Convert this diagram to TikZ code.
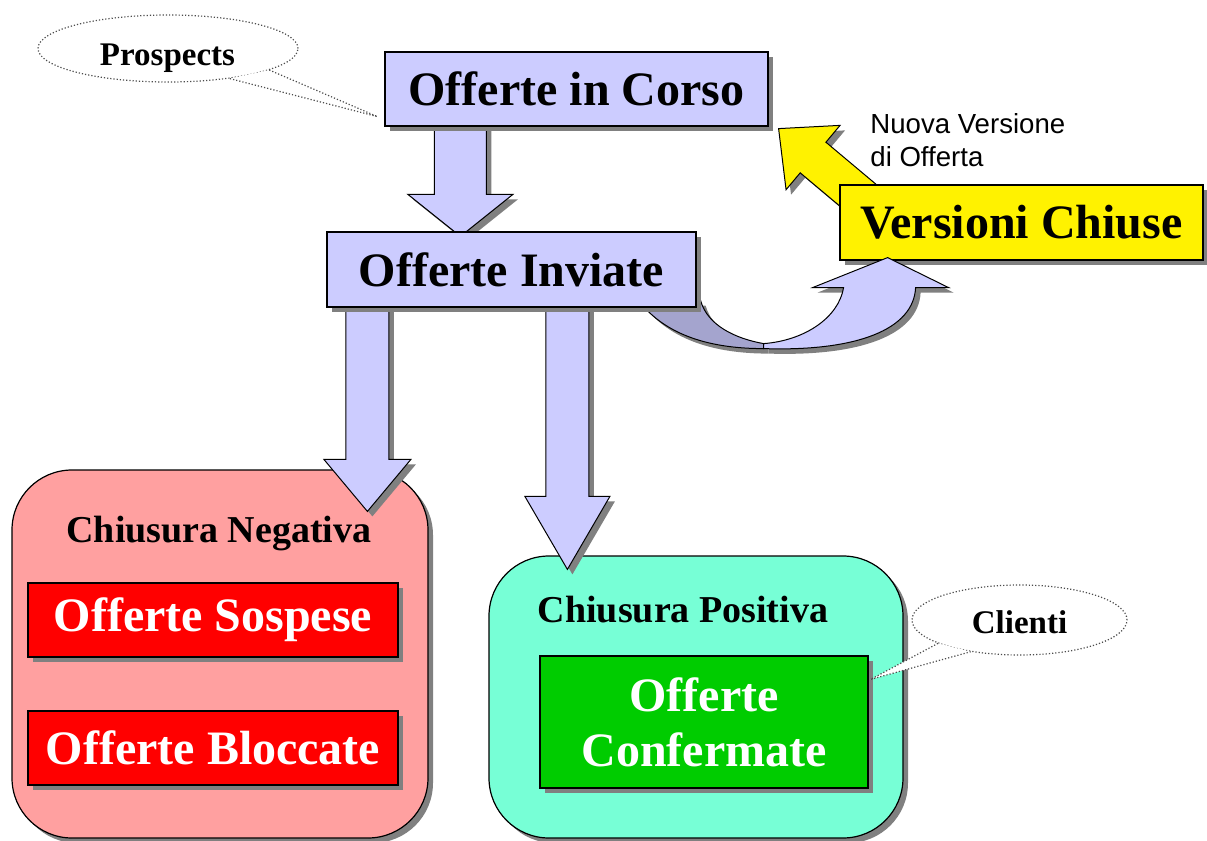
\documentclass[tikz,border=0pt]{standalone}
\usepackage{fontspec}
\setmainfont{Liberation Serif}
\newfontfamily\labelsans{Liberation Sans}
\usetikzlibrary{calc,shapes.geometric,shadows}

\pgfdeclarelayer{back}
\pgfdeclarelayer{arrows}
\pgfdeclarelayer{front}
\pgfsetlayers{back,arrows,main,front}

\definecolor{lavender}{RGB}{204,204,255}
\definecolor{lavenderdark}{RGB}{164,164,206}
\definecolor{negpink}{RGB}{255,160,160}
\definecolor{posaqua}{RGB}{119,255,214}
\definecolor{okgreen}{RGB}{0,204,0}
\definecolor{shade}{RGB}{128,128,128}

\tikzset{
  shadowed/.style={drop shadow={shadow xshift=2.5pt, shadow yshift=-2.5pt, fill=shade, opacity=1}},
  stage/.style={draw=black, line width=0.6pt, shadowed, inner sep=0pt,
    font=\bfseries\fontsize{24}{28}\selectfont},
  group/.style={draw=black, line width=0.6pt, rounded corners=30pt, shadowed, inner sep=0pt},
  grouptitle/.style={anchor=base, inner sep=0pt, font=\bfseries\fontsize{19}{22}\selectfont},
  bubble/.style={ellipse, draw=black!70, densely dotted, line width=0.6pt, fill=white, inner sep=0pt},
  bubbletext/.style={anchor=base, inner sep=0pt, font=\bfseries\fontsize{16.5}{19}\selectfont},
  bubbletail/.style={draw=black!70, densely dotted, line width=0.6pt},
  blockarrow/.style={draw=black, line width=0.5pt, fill=lavender, shadowed, line join=miter},
}

% straight block arrow: #1 style, #2 id, #3 start, #4 tip,
% #5 shaft half width, #6 head half width, #7 head length
\newcommand\straightblock[7]{%
  \coordinate (#2b) at ($(#4)!#7!(#3)$);
  \draw[#1] ($(#3)!#5!90:(#4)$) -- ($(#2b)!#5!90:(#4)$) -- ($(#2b)!#6!90:(#4)$)
    -- (#4) -- ($(#2b)!#6!-90:(#4)$) -- ($(#2b)!#5!-90:(#4)$)
    -- ($(#3)!#5!-90:(#4)$) -- cycle;}

\begin{document}
\begin{tikzpicture}[x=0.5pt,y=-0.5pt]
\useasboundingbox (0,0) rectangle (1207,841);

% closing groups
\begin{pgfonlayer}{back}
  \node[group, fill=negpink, minimum width=208pt, minimum height=184pt] (neg) at (220,654) {};
  \node[grouptitle] (negtitle) at (219,542) {Chiusura Negativa};
  \node[stage, fill=red, text=white, minimum width=185pt, minimum height=37pt] (sosp) at (213,620) {Offerte Sospese};
  \node[stage, fill=red, text=white, minimum width=185pt, minimum height=37pt] (blocc) at (213,748) {Offerte Bloccate};

  \node[group, fill=posaqua, minimum width=207pt, minimum height=141pt] (pos) at (696,697) {};
  \node[grouptitle] (postitle) at (683,622) {Chiusura Positiva};
  \node[stage, fill=okgreen, text=white, align=center, minimum width=164pt, minimum height=66pt,
        font=\bfseries\fontsize{24}{27.5}\selectfont] (conf) at (704,722) {Offerte\\Confermate};

  \node[bubble, minimum width=107.5pt, minimum height=35pt] (clienti) at (1019.5,620) {};
  \coordinate (clientiTip) at ($(conf.north east)+(2,24)$);
  \fill[white] (clienti.-164) -- (clientiTip) -- (clienti.-147) -- cycle;
  \draw[bubbletail] (clienti.-164) -- (clientiTip) -- (clienti.-147);
  \node[bubbletext] (clientitext) at (1019.5,633) {Clienti};
\end{pgfonlayer}

% offer stages
\node[stage, fill=lavender, minimum width=191.5pt, minimum height=37pt] (corso) at (576.5,89) {Offerte in Corso};
\node[stage, fill=lavender, minimum width=184.5pt, minimum height=37.5pt] (inviate) at (511.5,269.5) {Offerte Inviate};
\node[stage, fill=yellow, minimum width=181.5pt, minimum height=37.5pt] (vers) at (1021.5,222.5) {Versioni Chiuse};

\node[bubble, minimum width=130pt, minimum height=33.5pt] (prosp) at (168,48.5) {};
\coordinate (prospTip) at ($(corso.south west)+(-7,-10)$);
\fill[white] (prosp.-12.7) -- (prospTip) -- (prosp.-26) -- cycle;
\draw[bubbletail] (prosp.-12.7) -- (prospTip) -- (prosp.-26);
\node[bubbletext] (prosptext) at (167.5,65) {Prospects};

\node[anchor=north west, align=left, inner sep=0pt,
      font=\labelsans\fontsize{13.8}{16.5}\selectfont] (nuova) at (870,113) {Nuova Versione\\di Offerta};

% flow arrows
\begin{pgfonlayer}{arrows}
  \coordinate (t1s) at ($(corso.south west)+(76,-6)$);
  \coordinate (t1e) at ($(inviate.north west)+(134,5)$);
  \straightblock{blockarrow}{t1}{t1s}{t1e}{13pt}{26.25pt}{21pt}

  \coordinate (d1s) at ($(inviate.south west)+(41,-7)$);
  \coordinate (d1e) at ($(neg.north west)+(356,42)$);
  \straightblock{blockarrow}{d1}{d1s}{d1e}{10.75pt}{21.75pt}{26pt}

  \coordinate (d2s) at ($(inviate.south west)+(241,-7)$);
  \coordinate (d2e) at ($(pos.north west)+(79,14)$);
  \straightblock{blockarrow}{d2}{d2s}{d2e}{10.75pt}{21.25pt}{36.5pt}

  \coordinate (ys) at ($(vers.west)+(60,7.5)$);
  \coordinate (ye) at ($(corso.south east)+(10,2)$);
  \straightblock{blockarrow, fill=yellow}{y}{ys}{ye}{10pt}{21pt}{22.5pt}

  % curved arrow, back side
  \begin{scope}[shift={(inviate.south east)}]
    \draw[blockarrow, fill=lavenderdark] (-58,-7) .. controls (-31,28) and (14,41) .. (67,41)
      -- (67,36) .. controls (39,31) and (11,18) .. (4,-7) -- cycle;
  \end{scope}
\end{pgfonlayer}

% curved arrow, front side
\begin{pgfonlayer}{front}
  \begin{scope}[shift={(inviate.south east)}]
    \draw[blockarrow] (67,41) .. controls (160,44) and (217,22) .. (219,-20) -- (252,-20)
      -- (191,-50) -- (116,-20) -- (147,-20) .. controls (142,10) and (108,33) .. (67,36) -- cycle;
  \end{scope}
\end{pgfonlayer}
\end{tikzpicture}
\end{document}
